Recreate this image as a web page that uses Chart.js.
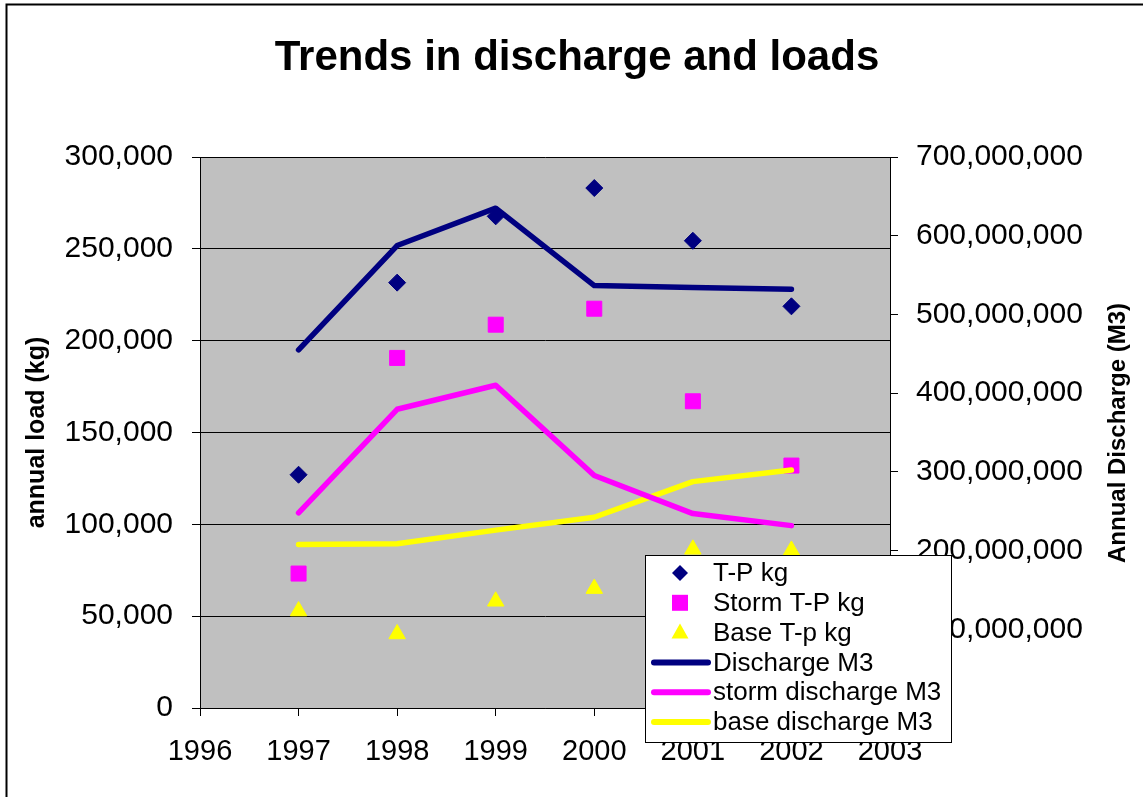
<!DOCTYPE html>
<html>
<head>
<meta charset="utf-8">
<title>Trends in discharge and loads</title>
<script src="https://cdn.jsdelivr.net/npm/chart.js"></script>
<style>
  html, body { margin: 0; padding: 0; background: #fff; }
  canvas { display: block; }
</style>
</head>
<body>
<canvas id="chart" width="1143" height="797"></canvas>
<script>
// values
const years = [1997, 1998, 1999, 2000, 2001, 2002];
const tpKg = [127000, 231600, 267700, 283100, 254400, 218700];
const stormTpKg = [73200, 190600, 208700, 217400, 167000, 132000];
const baseTpKg = [52800, 40300, 58100, 65000, 86400, 85800];
const dischargeM3 = [455000000, 587500000, 635000000, 536600000, 534200000, 532000000];
const stormDischargeM3 = [247900000, 379500000, 410000000, 295400000, 247000000, 231700000];
const baseDischargeM3 = [207700000, 208600000, 226000000, 242300000, 287600000, 302400000];

const NAVY = "#000080";
const MAGENTA = "#FF00FF";
const YELLOW = "#FFFF00";

Chart.defaults.font.family = "'Liberation Sans', Arial, sans-serif";
Chart.defaults.color = "#000";

const toPoints = vals => vals.map((v, i) => ({ x: years[i], y: v }));
const fmt = v => Number(v).toLocaleString("en-US");

const markerSet = (label, vals, colour, style, radius) => ({
    label: label,
    data: toPoints(vals),
    yAxisID: "y",
    showLine: false,
    order: 2,
    pointStyle: style,
    pointRadius: radius,
    pointHoverRadius: radius,
    pointBackgroundColor: colour,
    pointBorderColor: colour,
    pointBorderWidth: 1,
    borderColor: colour,
    backgroundColor: colour
});

const lineSet = (label, vals, colour) => ({
    label: label,
    data: toPoints(vals),
    yAxisID: "y2",
    order: 1,
    borderColor: colour,
    backgroundColor: colour,
    borderWidth: 5.5,
    borderCapStyle: "round",
    borderJoinStyle: "round",
    pointRadius: 0,
    pointHoverRadius: 0,
    tension: 0,
    fill: false
});

// grey plot area + outer frame
const background = {
    id: "background",
    beforeDraw(chart) {
        const { ctx, chartArea: a } = chart;
        ctx.save();
        ctx.fillStyle = "#fff";
        ctx.fillRect(0, 0, chart.width, chart.height);
        ctx.fillStyle = "#C0C0C0";
        ctx.fillRect(a.left, a.top, a.right - a.left, a.bottom - a.top);
        ctx.strokeStyle = "#000";
        ctx.lineWidth = 2;
        ctx.beginPath();
        ctx.moveTo(6.5, chart.height);
        ctx.lineTo(6.5, 4.5);
        ctx.lineTo(chart.width, 4.5);
        ctx.stroke();
        ctx.restore();
    }
};

// title, right axis title and the boxed legend
const overlay = {
    id: "overlay",
    afterDraw(chart) {
        const ctx = chart.ctx;
        ctx.save();
        ctx.fillStyle = "#000";
        ctx.font = "bold 42px 'Liberation Sans', Arial, sans-serif";
        ctx.textAlign = "center";
        ctx.textBaseline = "alphabetic";
        ctx.fillText("Trends in discharge and loads", 577, 70);

        ctx.save();
        ctx.translate(1118, 433);
        ctx.rotate(-Math.PI / 2);
        ctx.font = "bold 24px 'Liberation Sans', Arial, sans-serif";
        ctx.textBaseline = "middle";
        ctx.fillText("Annual Discharge (M3)", 0, 0);
        ctx.restore();

        // legend box
        const bx = 645, by = 555, bw = 306, bh = 187;
        ctx.fillStyle = "#fff";
        ctx.fillRect(bx, by, bw, bh);
        ctx.strokeStyle = "#000";
        ctx.lineWidth = 1;
        ctx.strokeRect(bx + 0.5, by + 0.5, bw, bh);

        ctx.font = "26px 'Liberation Sans', Arial, sans-serif";
        ctx.textAlign = "left";
        ctx.textBaseline = "middle";
        chart.data.datasets.forEach((ds, i) => {
            const cy = 573 + i * 29.8;
            const mx = 680;
            ctx.fillStyle = ds.borderColor;
            if (ds.showLine === false) {
                ctx.beginPath();
                if (ds.pointStyle === "rectRot") {
                    ctx.moveTo(mx, cy - 8);
                    ctx.lineTo(mx + 8, cy);
                    ctx.lineTo(mx, cy + 8);
                    ctx.lineTo(mx - 8, cy);
                } else if (ds.pointStyle === "rect") {
                    ctx.rect(mx - 8, cy - 8, 16, 16);
                } else {
                    ctx.moveTo(mx, cy - 9);
                    ctx.lineTo(mx + 8.5, cy + 6);
                    ctx.lineTo(mx - 8.5, cy + 6);
                }
                ctx.closePath();
                ctx.fill();
            } else {
                ctx.strokeStyle = ds.borderColor;
                ctx.lineWidth = 6;
                ctx.lineCap = "round";
                ctx.beginPath();
                ctx.moveTo(654, cy);
                ctx.lineTo(708, cy);
                ctx.stroke();
            }
            ctx.fillStyle = "#000";
            ctx.fillText(ds.label, 713, cy + 1);
        });
        ctx.restore();
    }
};

new Chart(document.getElementById("chart"), {
    type: "line",
    data: {
        datasets: [
            markerSet("T-P kg", tpKg, NAVY, "rectRot", 8.5),
            markerSet("Storm T-P kg", stormTpKg, MAGENTA, "rect", 10.6),
            markerSet("Base T-p kg", baseTpKg, YELLOW, "triangle", 9.5),
            lineSet("Discharge M3", dischargeM3, NAVY),
            lineSet("storm discharge M3", stormDischargeM3, MAGENTA),
            lineSet("base discharge M3", baseDischargeM3, YELLOW)
        ]
    },
    options: {
        responsive: false,
        animation: false,
        devicePixelRatio: 1,
        layout: {
            padding: { top: 157, left: 0, right: 0, bottom: 0 }
        },
        plugins: {
            legend: { display: false },
            title: { display: false },
            tooltip: { enabled: false }
        },
        scales: {
            x: {
                type: "linear",
                min: 1996,
                max: 2003,
                ticks: {
                    stepSize: 1,
                    callback: v => String(v),
                    font: { size: 29 },
                    color: "#000",
                    padding: 19,
                    maxRotation: 0,
                    autoSkip: false
                },
                grid: { drawOnChartArea: false, color: "#000", tickLength: 8 },
                border: { color: "#000", width: 1 },
                afterFit(scale) { scale.height = 89; }
            },
            y: {
                position: "left",
                min: 0,
                max: 300000,
                ticks: {
                    stepSize: 50000,
                    callback: v => fmt(v),
                    font: { size: 30 },
                    color: "#000",
                    padding: 19
                },
                grid: { color: "#000", lineWidth: 1, tickLength: 8 },
                border: { color: "#000", width: 1 },
                title: {
                    display: true,
                    text: "annual load (kg)",
                    font: { size: 25, weight: "bold" },
                    color: "#000",
                    padding: { top: 22, bottom: 0 }
                },
                afterFit(scale) { scale.width = 200; }
            },
            y2: {
                position: "right",
                min: 0,
                max: 700000000,
                ticks: {
                    stepSize: 100000000,
                    callback: v => fmt(v),
                    font: { size: 30 },
                    color: "#000",
                    padding: 18
                },
                grid: { drawOnChartArea: false, color: "#000", tickLength: 8 },
                border: { color: "#000", width: 1 },
                afterFit(scale) { scale.width = 253; }
            }
        }
    },
    plugins: [background, overlay]
});
</script>
</body>
</html>
